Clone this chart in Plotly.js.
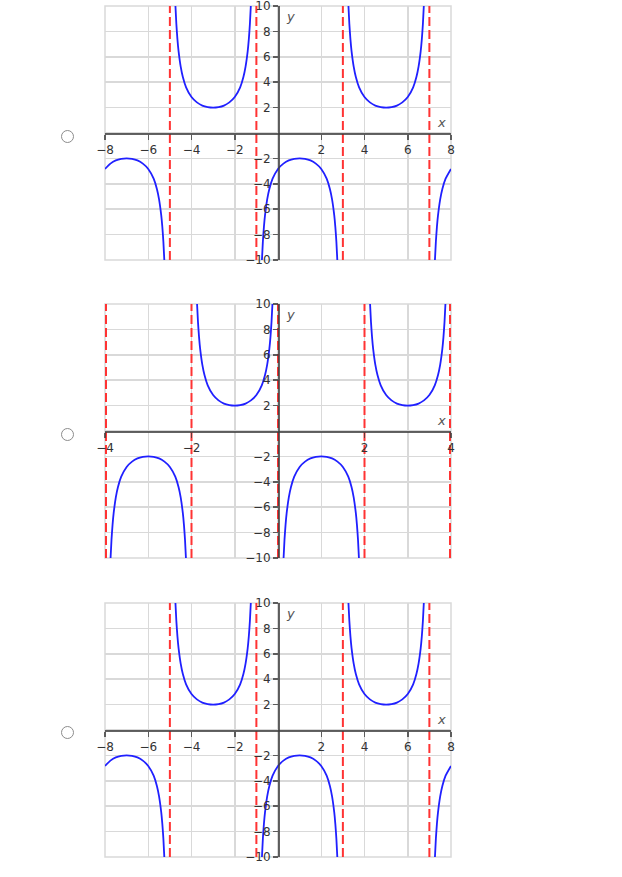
<!DOCTYPE html>
<html>
<head>
<meta charset="utf-8">
<script src="https://cdn.plot.ly/plotly-3.0.1.min.js"></script>
<style>
  body { margin: 0; background: #fff; }
  .graph { position: absolute; left: 0; width: 500px; height: 300px; }
  .pick { position: absolute; left: 61px; width: 13px; height: 13px; margin: 0; z-index: 2;
          -webkit-appearance: none; appearance: none; border: 1px solid #8c8c8c;
          border-radius: 50%; background: #fff; box-sizing: border-box; }
</style>
</head>
<body>
<div id="plot1" class="graph" style="top:-10px"></div>
<div id="plot2" class="graph" style="top:288px"></div>
<div id="plot3" class="graph" style="top:587px"></div>
<input type="radio" name="answer" class="pick" style="top:130px">
<input type="radio" name="answer" class="pick" style="top:428px">
<input type="radio" name="answer" class="pick" style="top:726px">
<script>
// tick labels
var xTicksWide = [-8, -6, -4, -2, 2, 4, 6, 8];
var xTicksNarrow = [-4, -2, 2, 4];
var yTicks = [-10, -8, -6, -4, -2, 2, 4, 6, 8, 10];

// first and third choice (same graph), asymptotes at -5, -1, 3, 7
var asymWide = [-5, -1, 3, 7];
var edgeWide = [];
var curveWideX = [
  -8, -7.75, -7.5, -7.25, -7, -6.75, -6.5, -6.25, -6, -5.75, -5.6, -5.5, -5.4, -5.35, -5.3, -5.25, null,
  -4.75, -4.7, -4.65, -4.6, -4.5, -4.4, -4.25, -4, -3.75, -3.5, -3.25, -3, -2.75, -2.5, -2.25, -2, -1.75, -1.6, -1.5, -1.4, -1.35, -1.3, -1.25, null,
  -0.75, -0.7, -0.65, -0.6, -0.5, -0.4, -0.25, 0, 0.25, 0.5, 0.75, 1, 1.25, 1.5, 1.75, 2, 2.25, 2.4, 2.5, 2.6, 2.65, 2.7, 2.75, null,
  3.25, 3.3, 3.35, 3.4, 3.5, 3.6, 3.75, 4, 4.25, 4.5, 4.75, 5, 5.25, 5.5, 5.75, 6, 6.25, 6.4, 6.5, 6.6, 6.65, 6.7, 6.75, null,
  7.25, 7.3, 7.35, 7.4, 7.5, 7.6, 7.75, 8
];
var curveWideY = [
  -2.83, -2.41, -2.16, -2.04, -2, -2.04, -2.16, -2.41, -2.83, -3.6, -4.41, -5.23, -6.47, -7.37, -8.57, -10.25, null,
  10.25, 8.57, 7.37, 6.47, 5.23, 4.41, 3.6, 2.83, 2.41, 2.16, 2.04, 2, 2.04, 2.16, 2.41, 2.83, 3.6, 4.41, 5.23, 6.47, 7.37, 8.57, 10.25, null,
  -10.25, -8.57, -7.37, -6.47, -5.23, -4.41, -3.6, -2.83, -2.41, -2.16, -2.04, -2, -2.04, -2.16, -2.41, -2.83, -3.6, -4.41, -5.23, -6.47, -7.37, -8.57, -10.25, null,
  10.25, 8.57, 7.37, 6.47, 5.23, 4.41, 3.6, 2.83, 2.41, 2.16, 2.04, 2, 2.04, 2.16, 2.41, 2.83, 3.6, 4.41, 5.23, 6.47, 7.37, 8.57, 10.25, null,
  -10.25, -8.57, -7.37, -6.47, -5.23, -4.41, -3.6, -2.83
];

// second choice, asymptotes at -4, -2, 0, 2, 4 (the outer two sit on the frame)
var asymNarrow = [-2, 0, 2];
var edgeNarrow = [-4, 4];
var curveNarrowX = [
  -3.875, -3.85, -3.825, -3.8, -3.75, -3.7, -3.625, -3.5, -3.375, -3.25, -3.125, -3, -2.875, -2.75, -2.625, -2.5, -2.375, -2.3, -2.25, -2.2, -2.175, -2.15, -2.125, null,
  -1.875, -1.85, -1.825, -1.8, -1.75, -1.7, -1.625, -1.5, -1.375, -1.25, -1.125, -1, -0.875, -0.75, -0.625, -0.5, -0.375, -0.3, -0.25, -0.2, -0.175, -0.15, -0.125, null,
  0.125, 0.15, 0.175, 0.2, 0.25, 0.3, 0.375, 0.5, 0.625, 0.75, 0.875, 1, 1.125, 1.25, 1.375, 1.5, 1.625, 1.7, 1.75, 1.8, 1.825, 1.85, 1.875, null,
  2.125, 2.15, 2.175, 2.2, 2.25, 2.3, 2.375, 2.5, 2.625, 2.75, 2.875, 3, 3.125, 3.25, 3.375, 3.5, 3.625, 3.7, 3.75, 3.8, 3.825, 3.85, 3.875
];
var curveNarrowY = [
  -10.25, -8.57, -7.37, -6.47, -5.23, -4.41, -3.6, -2.83, -2.41, -2.16, -2.04, -2, -2.04, -2.16, -2.41, -2.83, -3.6, -4.41, -5.23, -6.47, -7.37, -8.57, -10.25, null,
  10.25, 8.57, 7.37, 6.47, 5.23, 4.41, 3.6, 2.83, 2.41, 2.16, 2.04, 2, 2.04, 2.16, 2.41, 2.83, 3.6, 4.41, 5.23, 6.47, 7.37, 8.57, 10.25, null,
  -10.25, -8.57, -7.37, -6.47, -5.23, -4.41, -3.6, -2.83, -2.41, -2.16, -2.04, -2, -2.04, -2.16, -2.41, -2.83, -3.6, -4.41, -5.23, -6.47, -7.37, -8.57, -10.25, null,
  10.25, 8.57, 7.37, 6.47, 5.23, 4.41, 3.6, 2.83, 2.41, 2.16, 2.04, 2, 2.04, 2.16, 2.41, 2.83, 3.6, 4.41, 5.23, 6.47, 7.37, 8.57, 10.25
];

var gridColor = '#d9d9d9';
var axisColor = 'rgba(60,60,60,0.8)';
var tickFont = {family: 'DejaVu Sans, Verdana, sans-serif', size: 12, color: '#333333'};
var labelFont = {family: 'DejaVu Sans, Verdana, sans-serif', size: 13, color: '#555555', style: 'italic'};

// vertical dashed lines at the given x values, broken up with nulls
function asymLines(list, width) {
  var ax = [], ay = [];
  for (var i = 0; i < list.length; i++) {
    ax.push(list[i], list[i], null);
    ay.push(-10, 10, null);
  }
  return {
    x: ax, y: ay, mode: 'lines', hoverinfo: 'skip',
    line: {color: '#ff3333', width: width, dash: '9px,4px'}
  };
}

function axisStyle(range, ticks, minorStep) {
  return {
    range: range, tickmode: 'array', tickvals: ticks,
    anchor: 'free', position: 0.5,
    showgrid: true, gridcolor: gridColor, gridwidth: 1.5,
    minor: {tickmode: 'linear', tick0: 0, dtick: minorStep, showgrid: true, gridcolor: gridColor, gridwidth: 1.5, ticks: ''},
    zeroline: false, showline: true, linecolor: axisColor, linewidth: 1.5,
    ticks: 'outside', ticklen: 5, tickcolor: axisColor, tickwidth: 1.5,
    tickfont: tickFont, fixedrange: true
  };
}

function drawGraph(id, xMax, xTicks, xMinor, asym, edge, cx, cy) {
  var curveTrace = {
    x: cx, y: cy, mode: 'lines', hoverinfo: 'skip', connectgaps: false,
    line: {color: '#2020ff', width: 1.8, shape: 'spline', smoothing: 0.6}
  };
  // edge lines get clipped in half by the plot area, so draw them twice as wide
  var data = [asymLines(asym, 2), asymLines(edge, 4), curveTrace];
  var layout = {
    width: 500, height: 300,
    margin: {l: 105, r: 49, t: 16, b: 30},
    paper_bgcolor: 'rgba(0,0,0,0)', plot_bgcolor: '#fff',
    showlegend: false,
    font: tickFont,
    xaxis: axisStyle([-xMax, xMax], xTicks, xMinor),
    yaxis: axisStyle([-10, 10], yTicks, 2),
    shapes: [
      {type: 'rect', xref: 'paper', yref: 'paper', x0: 0, x1: 1, y0: 0, y1: 1,
       line: {color: gridColor, width: 1.5}, layer: 'below'}
    ],
    annotations: [
      {x: 0, y: 10, xref: 'x', yref: 'y', text: 'y', showarrow: false,
       xanchor: 'left', yanchor: 'top', xshift: 6, yshift: -1, font: labelFont},
      {x: xMax, y: 0, xref: 'x', yref: 'y', text: 'x', showarrow: false,
       xanchor: 'right', yanchor: 'bottom', xshift: -3, yshift: 1, font: labelFont}
    ]
  };
  Plotly.newPlot(document.getElementById(id), data, layout, {staticPlot: true, displayModeBar: false});
}

drawGraph('plot1', 8, xTicksWide, 2, asymWide, edgeWide, curveWideX, curveWideY);
drawGraph('plot2', 4, xTicksNarrow, 1, asymNarrow, edgeNarrow, curveNarrowX, curveNarrowY);
drawGraph('plot3', 8, xTicksWide, 2, asymWide, edgeWide, curveWideX, curveWideY);
</script>
</body>
</html>
